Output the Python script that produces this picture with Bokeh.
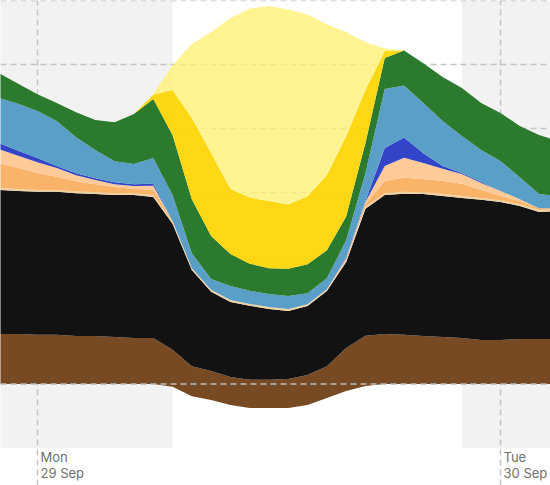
import numpy as np
from bokeh.plotting import figure
from bokeh.models import ColumnDataSource, Range1d, Span
from bokeh.core.properties import value
from bokeh.embed import file_html
from bokeh.resources import INLINE

# hours relative to Mon 29 Sep 00:00
hours = [-2, -1, 0, 1, 2, 3, 4, 5, 6, 7, 8, 9, 10, 11, 12, 13, 14, 15, 16, 17, 18, 19, 20, 21, 22, 23, 24, 25, 26, 27]

# MW, stacked bottom -> top
charging = [0, 0, 0, 0, 0, 0, 0, 0, 0, -90, -380, -500, -660, -750, -750, -750, -660, -440, -220, -60, 0, 0, 0, 0, 0, 0, 0, 0, 0, 0]
coal_brown = [1570, 1570, 1540, 1540, 1500, 1500, 1470, 1440, 1440, 1160, 940, 910, 880, 880, 880, 910, 940, 1000, 1350, 1570, 1570, 1540, 1500, 1470, 1440, 1380, 1380, 1410, 1410, 1410]
coal_black = [4510, 4480, 4480, 4480, 4480, 4450, 4450, 4480, 4420, 3950, 3010, 2480, 2350, 2320, 2220, 2130, 2160, 2350, 2690, 3980, 4350, 4420, 4450, 4420, 4390, 4390, 4320, 4170, 3980, 4010]
gas_recip = [60, 60, 60, 60, 60, 60, 60, 60, 60, 60, 60, 60, 60, 60, 60, 60, 60, 60, 60, 60, 60, 60, 60, 60, 60, 60, 60, 60, 60, 60]
gas_ccgt = [780, 660, 530, 410, 310, 250, 190, 130, 160, 30, 0, 0, 0, 0, 0, 0, 0, 0, 30, 90, 380, 440, 410, 410, 380, 250, 130, 90, 60, 30]
gas_ocgt = [440, 380, 340, 280, 190, 130, 90, 90, 130, 0, 0, 0, 0, 0, 0, 0, 0, 0, 30, 60, 470, 630, 500, 380, 310, 220, 160, 60, 0, 0]
battery = [190, 160, 130, 60, 60, 60, 60, 60, 60, 0, 0, 0, 0, 0, 0, 0, 0, 0, 30, 30, 560, 630, 310, 90, 30, 30, 0, 0, 0, 0]
hydro = [1410, 1470, 1470, 1410, 1130, 880, 660, 630, 810, 810, 470, 340, 440, 410, 410, 410, 340, 340, 530, 880, 1850, 1630, 1570, 1410, 1160, 1000, 940, 690, 440, 380]
wind = [780, 630, 530, 560, 780, 940, 1220, 1570, 1850, 1880, 1690, 1350, 1000, 850, 810, 850, 910, 880, 750, 940, 970, 1100, 1250, 1380, 1500, 1470, 1500, 1600, 1850, 1720]
solar_utility = [0, 0, 0, 0, 0, 0, 0, 0, 130, 1410, 2540, 2600, 2040, 2070, 2100, 2010, 2130, 2350, 2510, 1660, 220, 0, 0, 0, 0, 0, 0, 0, 0, 0]
solar_rooftop = [0, 0, 0, 0, 0, 0, 0, 0, 30, 780, 2320, 3790, 5360, 5920, 6110, 6110, 5700, 4730, 3260, 1500, 90, 0, 0, 0, 0, 0, 0, 0, 0, 0]

series = [
    ("coal_brown", coal_brown, "#784A24", 1.0),
    ("coal_black", coal_black, "#121212", 1.0),
    ("gas_recip", gas_recip, "#F0D2A0", 1.0),
    ("gas_ccgt", gas_ccgt, "#F9B46A", 1.0),
    ("gas_ocgt", gas_ocgt, "#FECB98", 1.0),
    ("battery", battery, "#3245C8", 1.0),
    ("hydro", hydro, "#5A9FC8", 1.0),
    ("wind", wind, "#2C7A2E", 1.0),
    ("solar_utility", solar_utility, "#FED500", 0.92),
    ("solar_rooftop", solar_rooftop, "#FFF176", 0.8),
]

# shaded periods (hours) and day ticks
shade_start = [-3, 22]
shade_end = [7, 30]
day_ticks = [0, 24]
day_names = ["Mon", "Tue"]
day_dates = ["29 Sep", "30 Sep"]
grid_ticks = [0, 2000, 4000, 6000, 8000, 10000, 12000]

p = figure(width=550, height=485, output_backend="svg", toolbar_location=None,
           x_range=Range1d(-1.918, 26.592), y_range=Range1d(-3180, 12015),
           min_border=0)
p.outline_line_color = None
p.axis.visible = False
p.background_fill_color = "white"
p.border_fill_color = "white"

p.xgrid.ticker = day_ticks
p.ygrid.ticker = grid_ticks
for g in (p.xgrid, p.ygrid):
    g.grid_line_color = "#c4c4c4"
    g.grid_line_dash = "6 4"
    g.grid_line_width = 1.5

p.quad(left=shade_start, right=shade_end, bottom=-2000, top=13000,
       fill_color="#f2f2f2", line_color=None, level="image")

base = np.array(charging, dtype=float)
data = {"x": hours}
for name, vals, color, alpha in series:
    top = base + np.array(vals, dtype=float)
    data[name + "_lo"] = base.copy()
    data[name + "_hi"] = top
    base = top
src = ColumnDataSource(data)
for name, vals, color, alpha in series:
    p.varea(x="x", y1=name + "_lo", y2=name + "_hi", source=src,
            fill_color=color, fill_alpha=alpha)

p.add_layout(Span(location=0, dimension="width", line_color="#bdbdbd",
                  line_dash="6 4", line_width=1.5, level="overlay"))

p.text(x=day_ticks, y=[-2300, -2300], text=day_names, x_offset=3,
       text_font=value("Inter"), text_font_size="13px", text_color="#707070",
       text_baseline="alphabetic")
p.text(x=day_ticks, y=[-2800, -2800], text=day_dates, x_offset=3,
       text_font=value("Inter"), text_font_size="13px", text_color="#707070",
       text_baseline="alphabetic")

open("out.html", "w").write(file_html(p, INLINE))
